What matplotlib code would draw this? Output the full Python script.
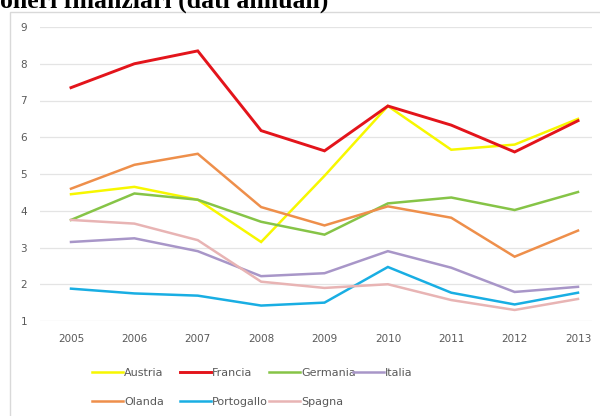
import matplotlib
matplotlib.use("Agg")
import matplotlib.pyplot as plt
from matplotlib.patches import Rectangle

years = [2005, 2006, 2007, 2008, 2009, 2010, 2011, 2012, 2013]
austria = [4.45, 4.65, 4.3, 3.15, 4.95, 6.85, 5.66, 5.8, 6.5]
francia = [7.35, 8.0, 8.35, 6.18, 5.63, 6.85, 6.33, 5.6, 6.45]
germania = [3.75, 4.47, 4.3, 3.7, 3.35, 4.2, 4.36, 4.02, 4.51]
italia = [3.15, 3.25, 2.9, 2.22, 2.3, 2.9, 2.45, 1.79, 1.93]
olanda = [4.6, 5.25, 5.55, 4.1, 3.6, 4.12, 3.81, 2.75, 3.46]
portogallo = [1.88, 1.75, 1.69, 1.42, 1.5, 2.47, 1.77, 1.45, 1.77]
spagna = [3.75, 3.65, 3.2, 2.07, 1.9, 2.0, 1.57, 1.3, 1.6]

series = [
    ("Austria", austria, "#F7F700"),
    ("Francia", francia, "#E3141B"),
    ("Germania", germania, "#86C447"),
    ("Italia", italia, "#A896C8"),
    ("Olanda", olanda, "#EE8F4B"),
    ("Portogallo", portogallo, "#19AEE3"),
    ("Spagna", spagna, "#E8B4B4"),
]

W, H = 600, 416
fig = plt.figure(figsize=(W / 100, H / 100), dpi=100)
fig.patch.set_facecolor("white")

# outer chart frame
fig.add_artist(Rectangle((10 / W, -0.01), 1.0, 1 - 12 / H + 0.01,
                         transform=fig.transFigure, fill=False,
                         edgecolor="#D9D9D9", linewidth=1.0))

# cropped title
fig.text(0 / W, 1 - 8 / H, "oneri finanziari (dati annuali)", family="Liberation Serif",
         fontweight="bold", fontsize=18.5, color="black", ha="left", va="baseline")

left, right, top, bottom = 40, 592, 27, 321
ax = fig.add_axes([left / W, 1 - bottom / H, (right - left) / W, (bottom - top) / H])
px_per_year = (578 - 71) / 8
ax.set_xlim(2005 - (71 - left) / px_per_year, 2013 + (right - 578) / px_per_year)
ax.set_ylim(1, 9)

handles = {}
for name, vals, col in series:
    lw = 2.1 if name == "Francia" else 1.8
    (ln,) = ax.plot(years, vals, color=col, linewidth=lw, label=name, solid_joinstyle="miter")
    handles[name] = ln

ax.set_yticks(range(1, 10))
ax.set_xticks(years)
ax.grid(axis="y", color="#E4E4E4", linewidth=0.9)
ax.set_axisbelow(True)
for s in ax.spines.values():
    s.set_visible(False)
ax.tick_params(axis="both", length=0, colors="#595959", labelsize=7.5)
ax.tick_params(axis="x", pad=9)
ax.tick_params(axis="y", pad=14)
for lbl in ax.get_yticklabels():
    lbl.set_horizontalalignment("left")

# legend: Excel-like uniform columns, row-major order
rows = [["Austria", "Francia", "Germania", "Italia"], ["Olanda", "Portogallo", "Spagna"]]
col_x = [92, 180, 269, 353]
row_y = [373, 402]
for r, names in enumerate(rows):
    for c, name in enumerate(names):
        leg = fig.legend([handles[name]], [name], loc="center left",
                         bbox_to_anchor=(col_x[c] / W, 1 - row_y[r] / H), frameon=False,
                         fontsize=8, handlelength=2.75, handletextpad=0.15,
                         borderpad=0, borderaxespad=0)
        for t in leg.get_texts():
            t.set_color("#595959")

fig.savefig("out.png", dpi=100)
